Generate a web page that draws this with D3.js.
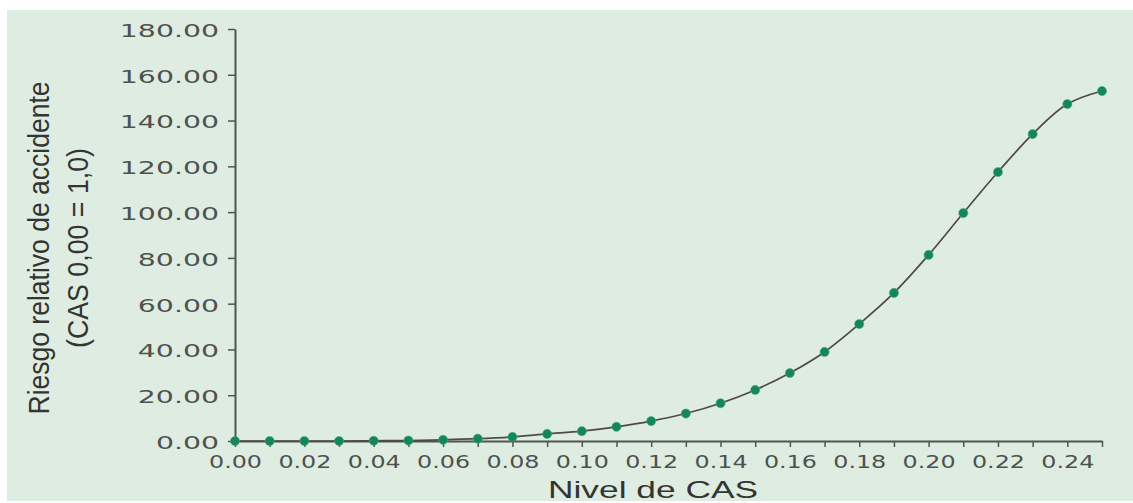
<!DOCTYPE html>
<html>
<head>
<meta charset="utf-8">
<script src="https://cdn.jsdelivr.net/npm/d3@7"></script>
<style>
  html, body { margin: 0; padding: 0; background: #ffffff; }
  svg { display: block; }
</style>
</head>
<body>
<svg id="chart" width="1133" height="503"></svg>
<script>
// ---- Data ----
const casLevels = [0.00, 0.01, 0.02, 0.03, 0.04, 0.05, 0.06, 0.07, 0.08, 0.09,
                   0.10, 0.11, 0.12, 0.13, 0.14, 0.15, 0.16, 0.17, 0.18, 0.19,
                   0.20, 0.21, 0.22, 0.23, 0.24, 0.25];
const relativeRisk = [0, 0, 0, 0, 0.1, 0.2, 0.5, 1.0, 1.8, 3.1,
                      4.3, 6.2, 8.7, 12.0, 16.5, 22.3, 29.7, 38.9, 51.1, 64.7,
                      81.3, 99.6, 117.5, 134.1, 147.2, 152.9];
const yTickValues = [0, 20, 40, 60, 80, 100, 120, 140, 160, 180];
const xTickValues = [0.00, 0.01, 0.02, 0.03, 0.04, 0.05, 0.06, 0.07, 0.08, 0.09,
                     0.10, 0.11, 0.12, 0.13, 0.14, 0.15, 0.16, 0.17, 0.18, 0.19,
                     0.20, 0.21, 0.22, 0.23, 0.24, 0.25];
const xTickLabels = ["0.00", "0.02", "0.04", "0.06", "0.08", "0.10", "0.12",
                     "0.14", "0.16", "0.18", "0.20", "0.22", "0.24"];
const xTitle = "Nivel de CAS";
const yTitleLines = ["Riesgo relativo de accidente", "(CAS 0,00 = 1,0)"];

// ---- Chart ----
const svg = d3.select("#chart");

svg.append("rect")
  .attr("x", 7).attr("y", 10)
  .attr("width", 1126).attr("height", 491)
  .attr("fill", "#dfece2");

const x = d3.scaleLinear().domain([0, 0.25]).range([235, 1102]);
const y = d3.scaleLinear().domain([0, 180]).range([441, 29]);

const axisColor = "#4f5550";
const tickFont = "'DejaVu Sans', Verdana, sans-serif";

// Y axis
const yAxis = svg.append("g")
  .attr("transform", "translate(235,0)")
  .call(d3.axisLeft(y).tickValues(yTickValues).tickSize(7).tickSizeOuter(0)
        .tickPadding(9).tickFormat(d3.format(".2f")));
yAxis.select(".domain").attr("stroke", axisColor).attr("stroke-width", 2);
yAxis.selectAll(".tick line").attr("stroke", axisColor).attr("stroke-width", 1.5);
yAxis.selectAll(".tick text")
  .attr("fill", "#4e524e")
  .style("font-family", tickFont)
  .style("font-size", "17.5px")
  .attr("dy", "0.42em")
  .each(function () {
    const w = this.getComputedTextLength();
    d3.select(this).attr("textLength", w * 1.62).attr("lengthAdjust", "spacingAndGlyphs");
  });

// X axis
const labelSet = new Set(xTickLabels);
const xAxis = svg.append("g")
  .attr("transform", "translate(0,441)")
  .call(d3.axisBottom(x).tickValues(xTickValues).tickSize(6).tickSizeOuter(0)
        .tickFormat(d => { const s = d3.format(".2f")(d); return labelSet.has(s) ? s : ""; }));
xAxis.select(".domain").attr("stroke", axisColor).attr("stroke-width", 2);
xAxis.selectAll(".tick line").attr("stroke", axisColor).attr("stroke-width", 1.5);
xAxis.selectAll(".tick text")
  .attr("fill", "#4e524e")
  .style("font-family", tickFont)
  .style("font-size", "17.5px")
  .attr("y", 27).attr("dy", 0)
  .each(function () {
    const w = this.getComputedTextLength();
    if (w > 0) d3.select(this).attr("textLength", w * 1.36).attr("lengthAdjust", "spacingAndGlyphs");
  });

// Line
const pts = casLevels.map((c, i) => [c, relativeRisk[i]]);
svg.append("path")
  .datum(pts)
  .attr("fill", "none")
  .attr("stroke", "#4f4a4a")
  .attr("stroke-width", 1.7)
  .attr("d", d3.line().x(d => x(d[0])).y(d => y(d[1])).curve(d3.curveCatmullRom.alpha(0.5)));

// Points
svg.append("g").selectAll("circle")
  .data(pts)
  .join("circle")
  .attr("cx", d => x(d[0]))
  .attr("cy", d => y(d[1]))
  .attr("r", 4.6)
  .attr("fill", "#17855a")
  .attr("stroke", "#45b388")
  .attr("stroke-width", 1)
  .attr("stroke-opacity", 0.55);

// X title
svg.append("text")
  .attr("x", 653).attr("y", 498)
  .attr("text-anchor", "middle")
  .attr("fill", "#333533")
  .style("font-family", "'Liberation Sans', Arial, sans-serif")
  .style("font-size", "24px")
  .attr("textLength", 210).attr("lengthAdjust", "spacingAndGlyphs")
  .text(xTitle);

// Y title (condensed)
const yt = svg.append("text")
  .attr("transform", "translate(0,248) rotate(-90)")
  .attr("text-anchor", "middle")
  .attr("fill", "#333533")
  .style("font-family", "'Liberation Sans', Arial, sans-serif")
  .style("font-size", "30px");
yt.append("tspan").attr("x", 0).attr("y", 49)
  .attr("textLength", 333).attr("lengthAdjust", "spacingAndGlyphs")
  .text(yTitleLines[0]);
yt.append("tspan").attr("x", 0).attr("y", 88)
  .attr("textLength", 200).attr("lengthAdjust", "spacingAndGlyphs")
  .text(yTitleLines[1]);
</script>
</body>
</html>
